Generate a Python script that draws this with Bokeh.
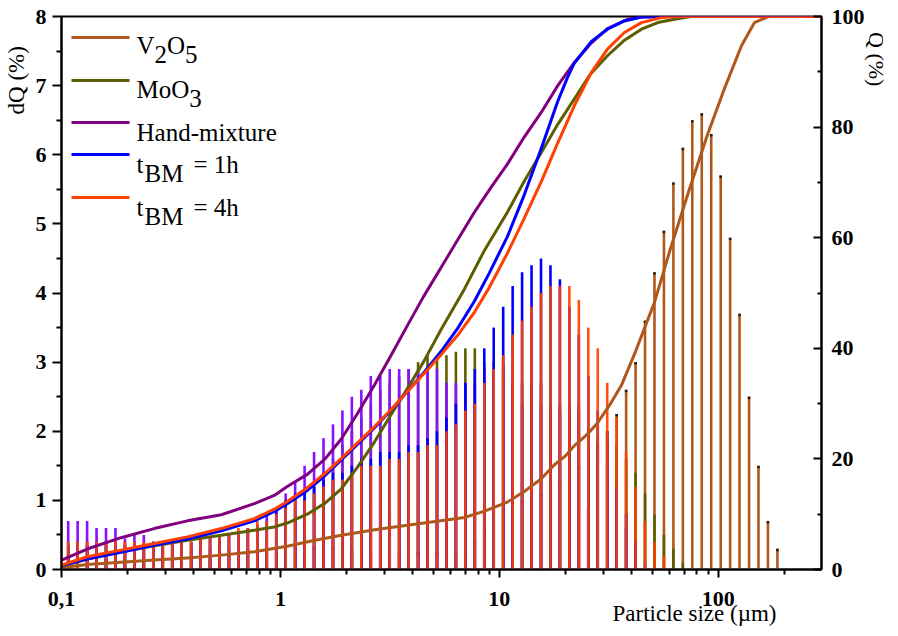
import math
from bokeh.plotting import figure
from bokeh.models import Range1d, LinearAxis, FixedTicker, CustomJSTickFormatter, Label
from bokeh.embed import file_html
from bokeh.resources import INLINE

# ---------------- data ----------------
# particle size classes (µm)
sizes = [0.1073, 0.1185, 0.1309, 0.1446, 0.1597, 0.1764, 0.1949, 0.2153, 0.2378, 0.2627,
         0.2902, 0.3205, 0.3540, 0.3911, 0.4320, 0.4771, 0.5270, 0.5821, 0.6430, 0.7102,
         0.7845, 0.8665, 0.9572, 1.057, 1.168, 1.290, 1.425, 1.574, 1.739, 1.920,
         2.121, 2.343, 2.588, 2.859, 3.158, 3.488, 3.853, 4.256, 4.701, 5.193,
         5.736, 6.336, 6.998, 7.731, 8.539, 9.432, 10.42, 11.51, 12.71, 14.04,
         15.51, 17.13, 18.92, 20.90, 23.09, 25.50, 28.17, 31.12, 34.37, 37.97,
         41.94, 46.33, 51.17, 56.52, 62.44, 68.97, 76.18, 84.14, 92.94, 102.7,
         113.4, 125.2, 138.4, 152.8, 168.8, 186.5]

# dQ (%) per class
dq_v2o5 = [0.15, 0.15, 0.15, 0.15, 0.15, 0.15, 0.15, 0.15, 0.15, 0.15,
           0.15, 0.15, 0.15, 0.15, 0.15, 0.15, 0.15, 0.22, 0.22, 0.22,
           0.22, 0.22, 0.22, 0.22, 0.32, 0.32, 0.32, 0.32, 0.32, 0.32,
           0.27, 0.27, 0.27, 0.27, 0.27, 0.27, 0.27, 0.25, 0.25, 0.25,
           0.25, 0.25, 0.25, 0.4, 0.6, 0.8, 0.9, 0.9, 1.0, 1.0,
           1.1, 1.2, 1.3, 1.4, 1.5, 1.6, 1.8, 2.0, 2.25, 2.6,
           3.0, 3.6, 4.3, 4.9, 5.6, 6.1, 6.5, 6.6, 6.3, 5.7,
           4.8, 3.7, 2.5, 1.5, 0.7, 0.3]
dq_moo3 = [0.4, 0.4, 0.4, 0.4, 0.4, 0.4, 0.4, 0.4, 0.4, 0.4,
           0.4, 0.3, 0.3, 0.3, 0.3, 0.3, 0.3, 0.3, 0.3, 0.3,
           0.3, 0.3, 0.3, 0.6, 0.8, 1.0, 1.2, 1.4, 1.6, 1.8,
           2.0, 2.2, 2.4, 2.6, 2.7, 2.8, 2.9, 3.0, 3.1, 3.1,
           3.1, 3.15, 3.2, 3.2, 3.0, 3.0, 3.0, 2.7, 2.7, 2.7,
           2.7, 2.4, 2.4, 2.4, 2.4, 2.0, 1.9, 1.9, 1.8, 1.6,
           1.4, 1.1, 0.8, 0.5, 0.3, 0.1, 0, 0, 0, 0,
           0, 0, 0, 0, 0, 0]
dq_hand = [0.7, 0.7, 0.7, 0.6, 0.6, 0.6, 0.45, 0.5, 0.5, 0.4,
           0.4, 0.4, 0.4, 0.4, 0.45, 0.45, 0.45, 0.5, 0.5, 0.55,
           0.6, 0.8, 0.9, 1.1, 1.26, 1.5, 1.7, 1.9, 2.1, 2.3,
           2.5, 2.6, 2.8, 2.8, 2.9, 2.9, 2.9, 2.9, 2.9, 2.9,
           2.7, 2.7, 2.7, 2.7, 2.9, 2.9, 2.9, 2.4, 2.4, 2.4,
           2.4, 2.3, 2.3, 2.3, 2.3, 1.8, 1.8, 1.5, 1.0, 0.6,
           0.3, 0.1, 0, 0, 0, 0, 0, 0, 0, 0,
           0, 0, 0, 0, 0, 0]
dq_bm1 = [0.35, 0.35, 0.35, 0.35, 0.35, 0.35, 0.35, 0.35, 0.35, 0.4,
          0.4, 0.4, 0.4, 0.4, 0.45, 0.45, 0.5, 0.5, 0.55, 0.6,
          0.65, 0.7, 0.85, 1.0, 1.1, 1.1, 1.2, 1.3, 1.4, 1.4,
          1.5, 1.6, 1.6, 1.7, 1.7, 1.7, 1.8, 1.8, 1.9, 2.0,
          2.2, 2.4, 2.7, 2.9, 3.2, 3.5, 3.8, 4.1, 4.3, 4.4,
          4.5, 4.4, 4.2, 3.8, 3.4, 2.8, 2.3, 2.0, 1.2, 0.8,
          0.4, 0, 0, 0, 0, 0, 0, 0, 0, 0,
          0, 0, 0, 0, 0, 0]
dq_bm4 = [0.4, 0.4, 0.4, 0.4, 0.4, 0.4, 0.4, 0.4, 0.4, 0.35,
          0.4, 0.4, 0.4, 0.4, 0.45, 0.45, 0.5, 0.5, 0.6, 0.6,
          0.7, 0.7, 0.8, 0.9, 1.0, 1.0, 1.1, 1.2, 1.3, 1.3,
          1.4, 1.5, 1.5, 1.5, 1.6, 1.6, 1.7, 1.7, 1.8, 1.8,
          2.0, 2.1, 2.3, 2.4, 2.7, 2.9, 3.1, 3.4, 3.6, 3.8,
          4.0, 4.1, 4.1, 4.1, 3.9, 3.5, 3.2, 2.7, 2.2, 1.7,
          1.2, 0.7, 0.4, 0.2, 0, 0, 0, 0, 0, 0,
          0, 0, 0, 0, 0, 0]

# cumulative Q (%) curves, read at sample sizes (µm)
qx_v2o5 = [0.1, 0.131, 0.187, 0.265, 0.376, 0.537, 0.760, 1.075, 1.4, 1.898, 2.7, 3.802,
           5.4, 6.926, 8.5, 10.89, 13.0, 15.57, 17.8, 20.0, 22.04, 25.0, 28.0, 32.0, 36.14,
           42.0, 51.16, 60.0, 73.5, 89.35, 106.9, 127.8, 146.5, 170.0, 296.5]
qy_v2o5 = [0.3, 0.9, 1.3, 1.7, 2.1, 2.6, 3.2, 4.2, 5.2, 6.2, 7.2, 8.0,
           8.8, 9.4, 10.5, 12.2, 14.1, 16.4, 18.9, 20.5, 22.4, 24.3, 26.4, 29.8, 33.3,
           39.5, 48.3, 57.5, 68.5, 78.6, 87.0, 94.7, 98.9, 100, 100]
qx_moo3 = [0.1, 0.131, 0.187, 0.265, 0.376, 0.537, 0.760, 0.938, 1.075, 1.327, 1.6, 1.898,
           2.25, 2.686, 3.2, 3.802, 4.5, 5.438, 6.926, 8.551, 10.89, 13.0, 15.57, 18.5,
           22.04, 26.0, 31.2, 37.0, 44.62, 53.0, 63.14, 75.0, 296.5]
qy_moo3 = [0.6, 1.9, 3.2, 4.3, 5.3, 6.2, 7.1, 7.7, 8.4, 10.0, 12.0, 14.6,
           18.5, 23.0, 28.0, 32.7, 37.5, 43.5, 50.7, 57.7, 64.6, 70.2, 75.4, 80.5,
           85.1, 89.5, 92.9, 95.6, 97.7, 98.9, 99.5, 100, 100]
qx_hand = [0.1, 0.131, 0.187, 0.265, 0.376, 0.537, 0.760, 0.938, 1.075, 1.327, 1.6, 1.898,
           2.25, 2.686, 3.2, 3.802, 4.5, 5.438, 6.5, 7.696, 9.2, 10.89, 13.0, 15.57,
           18.5, 22.04, 26.0, 31.2, 38.5, 44.6, 60.0, 296.5]
qy_hand = [1.7, 3.7, 5.75, 7.4, 8.8, 9.9, 11.9, 13.4, 15.0, 17.2, 20.0, 23.6,
           28.2, 33.3, 38.7, 44.1, 49.3, 54.7, 59.8, 64.6, 69.2, 73.3, 78.2, 82.7,
           87.5, 91.7, 95.0, 97.8, 99.5, 99.9, 100, 100]
qx_bm1 = [0.1, 0.131, 0.187, 0.265, 0.376, 0.537, 0.760, 0.938, 1.075, 1.327, 1.6, 1.898,
          2.25, 2.686, 3.2, 3.802, 4.5, 5.438, 6.5, 7.696, 9.0, 10.89, 13.02, 15.57, 18.43,
          20.5, 22.04, 26.36, 31.2, 37.3, 44.6, 55.0, 296.5]
qy_bm1 = [0.7, 1.9, 3.1, 4.4, 5.5, 7.0, 8.8, 10.5, 11.9, 14.3, 17.0, 19.8,
          22.6, 25.6, 28.8, 32.2, 35.5, 39.5, 43.8, 48.5, 53.6, 60.2, 67.8, 76.2, 84.5,
          89.0, 91.6, 95.5, 97.7, 99.2, 99.9, 100, 100]
qx_bm4 = [0.1, 0.131, 0.187, 0.265, 0.376, 0.537, 0.760, 0.938, 1.075, 1.327, 1.6, 1.898,
          2.25, 2.686, 3.2, 3.802, 4.5, 5.438, 6.5, 7.696, 9.0, 10.89, 13.0, 15.57, 18.43,
          22.04, 26.36, 31.2, 37.3, 44.6, 55.0, 65.0, 296.5]
qy_bm4 = [0.8, 2.3, 3.5, 4.7, 5.9, 7.4, 9.2, 10.9, 12.3, 14.8, 17.4, 20.1,
          22.9, 25.8, 28.9, 32.2, 35.3, 38.9, 42.5, 46.5, 51.0, 57.2, 63.5, 70.2, 77.0,
          83.9, 89.9, 94.1, 97.1, 98.9, 99.8, 100, 100]

x_major_ticks = [0.1, 1, 10, 100]
x_minor_ticks = [0.2, 0.3, 0.4, 0.5, 0.6, 0.7, 0.8, 0.9, 2, 3, 4, 5, 6, 7, 8, 9,
                 20, 30, 40, 50, 60, 70, 80, 90, 200]
y_major_ticks = [0, 1, 2, 3, 4, 5, 6, 7, 8]
y_minor_ticks = [0.5, 1.5, 2.5, 3.5, 4.5, 5.5, 6.5, 7.5]
q_major_ticks = [0, 20, 40, 60, 80, 100]
q_minor_ticks = [10, 30, 50, 70, 90]

x_title = "Particle size (µm)"
y_title = "dQ (%)"
q_title = "Q (%)"

# ---------------- styling / layout ----------------
C_V2O5 = "#B0581C"
C_V2O5_TIP = "#2B1A0C"
C_MOO3 = "#5E5E00"
C_HAND_LINE = "#800080"
C_HAND_BAR = "#8A10FF"
C_BM1 = "#0000FF"
C_BM4 = "#FF4000"
FONT = "'Liberation Serif', 'Times New Roman', 'DejaVu Serif', serif"
TICK_FONT = 'Tinos, "Nimbus Roman", "Nimbus Roman No9 L", Times, "FreeSerif", serif'
NB = "\u00a0"

X_MIN, X_MAX = 0.1, 296.5
Y_MAX = 8
FRAME_W, FRAME_H = 760, 553
PAGE_LEFT, PAGE_TOP = 67, 24   # frame position on the page
DECADE = FRAME_W / math.log10(X_MAX / X_MIN)
TIP = 0.035                     # height of the dark cap on V2O5 bars (dQ units)


def sx(px):
    return X_MIN * 10 ** ((px - PAGE_LEFT) / DECADE)


def sy(py):
    return (PAGE_TOP + FRAME_H - py) / FRAME_H * Y_MAX


p = figure(x_axis_type="log", x_range=Range1d(X_MIN, X_MAX), y_range=Range1d(0, Y_MAX),
           frame_width=FRAME_W, frame_height=FRAME_H,
           min_border_left=59, min_border_right=30, min_border_top=16, min_border_bottom=30,
           toolbar_location=None, output_backend="svg", title=None,
           background_fill_color="white", border_fill_color="white")
p.extra_y_ranges = {"q": Range1d(0, 100)}
p.grid.visible = False
p.outline_line_color = "black"
p.outline_line_width = 2

xa = p.xaxis[0]
xa.ticker = FixedTicker(ticks=x_major_ticks, minor_ticks=x_minor_ticks)
xa.formatter = CustomJSTickFormatter(
    code="return tick < 1 ? String(tick).replace('.', ',') : String(tick);")
ya = p.yaxis[0]
ya.ticker = FixedTicker(ticks=y_major_ticks, minor_ticks=y_minor_ticks)
ra = LinearAxis(y_range_name="q", ticker=FixedTicker(ticks=q_major_ticks, minor_ticks=q_minor_ticks))
p.add_layout(ra, "right")

for ax in (xa, ya, ra):
    ax.axis_line_width = 2
    ax.axis_line_color = "black"
    ax.major_tick_line_width = 2
    ax.minor_tick_line_width = 2
    ax.major_label_text_font = TICK_FONT
    ax.major_label_text_font_style = "bold"
    ax.major_label_text_font_size = "22px"
    ax.major_label_text_color = "black"
    ax.axis_label_text_font = FONT
    ax.axis_label_text_font_style = "normal"
    ax.axis_label_text_font_size = "23px"
    ax.axis_label_text_color = "black"
xa.major_tick_in, xa.major_tick_out = 0, 8
xa.minor_tick_in, xa.minor_tick_out = 0, 5
xa.major_label_standoff = 14
ya.major_tick_in, ya.major_tick_out = 0, 9
ya.minor_tick_in, ya.minor_tick_out = 0, 5
ya.major_label_standoff = 6
ra.major_tick_in, ra.major_tick_out = 8, 0
ra.minor_tick_in, ra.minor_tick_out = 4, 0
ra.major_label_standoff = 10
ra.axis_label_text_font_size = "22px"

# axis titles (centred labels, shifted along the axis with non-breaking spaces)
xa.axis_label = NB * 88 + x_title
ya.axis_label = NB * 74 + y_title
ra.axis_label = q_title + NB * 85
xa.axis_label_standoff = -8
ya.axis_label_standoff = 4
ra.axis_label_standoff = -4

# histogram bars (drawn as thin vertical bars)
zeros = [0] * len(sizes)
p.segment(x0=sizes, y0=zeros, x1=sizes, y1=dq_v2o5, line_width=2.6, line_color=C_V2O5)
tip_base = [max(v - TIP, 0) for v in dq_v2o5]
p.segment(x0=sizes, y0=tip_base, x1=sizes, y1=dq_v2o5, line_width=2.6, line_color=C_V2O5_TIP)
bar_specs = [(dq_moo3, C_MOO3, 1.0), (dq_hand, C_HAND_BAR, 1.0),
             (dq_bm1, C_BM1, 1.0), (dq_bm4, C_BM4, 0.92)]
for vals, col, a in bar_specs:
    p.segment(x0=sizes, y0=zeros, x1=sizes, y1=vals, line_width=2.6,
              line_color=col, line_alpha=a)

# cumulative curves
curve_specs = [(qx_v2o5, qy_v2o5, C_V2O5), (qx_moo3, qy_moo3, C_MOO3),
               (qx_hand, qy_hand, C_HAND_LINE), (qx_bm1, qy_bm1, C_BM1),
               (qx_bm4, qy_bm4, C_BM4)]
for xs, ys, col in curve_specs:
    p.line(xs, ys, y_range_name="q", line_width=3, line_color=col, line_join="round")

# legend (manual, to allow subscripts)
legend_rows = [  # (line y px, baseline px, pieces [(x px, text, subscript?)], color)
    (45, 53, [(142, "V", False), (160, "2", True), (172.5, "O", False), (190.6, "5", True)], C_V2O5),
    (88, 97, [(142, "MoO", False), (194.8, "3", True)], C_MOO3),
    (130, 140, [(142, "Hand-mixture", False)], C_HAND_LINE),
    (162, 172, [(142, "t", False), (150, "BM", True), (199, "= 1h", False)], C_BM1),
    (205, 215, [(142, "t", False), (150, "BM", True), (199, "= 4h", False)], C_BM4),
]
for ly, base, pieces, col in legend_rows:
    p.line([sx(77), sx(135)], [sy(ly), sy(ly)], line_width=3, line_color=col)
    for px, txt, sub in pieces:
        p.add_layout(Label(x=sx(px), y=sy(base + (9 if sub else 0)), text=txt,
                           text_font=FONT, text_font_size="25px", text_color="black",
                           text_baseline="alphabetic", text_align="left"))

open("out.html", "w").write(file_html(p, INLINE))
